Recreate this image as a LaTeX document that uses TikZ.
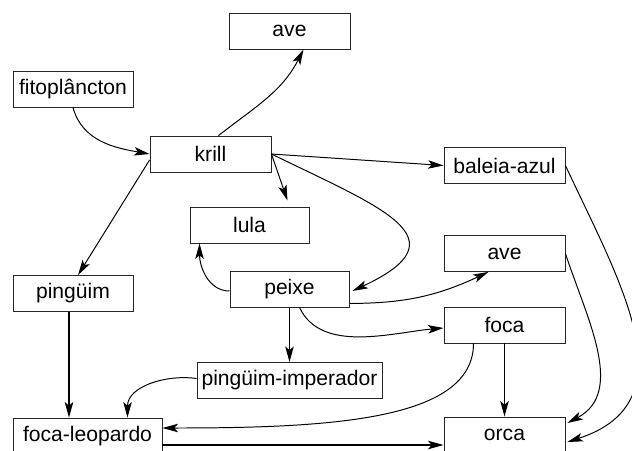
\documentclass[tikz,border=0pt]{standalone}
\usepackage{fontspec}
\setmainfont{Liberation Sans}
\usetikzlibrary{arrows.meta,calc}

\begin{document}
\begin{tikzpicture}[x=0.025cm,y=-0.025cm,
	caixa/.style={draw=black!85, line width=0.6pt, minimum width=3.025cm, minimum height=0.9cm, inner sep=2pt, font=\fontsize{15}{18}\selectfont},
	seta/.style={-{Stealth[length=11pt,width=6pt,inset=2.5pt]}, line width=0.7pt},
	grossa/.style={seta, line width=1.3pt}]
			\clip (0,0) rectangle (632,450);
			% caixas
			\node[caixa] (ave) at (289.5,31) {ave};
			\node[caixa, minimum width=3cm] (fito) at (73,89) {fitoplâncton};
			\node[caixa] (krill) at (210.5,154) {krill};
			\node[caixa] (baleia) at (504.5,165.5) {baleia-azul};
			\node[caixa, minimum width=2.975cm] (lula) at (249.5,225) {lula};
			\node[caixa] (ave2) at (504.5,253.5) {ave};
			\node[caixa, minimum width=3cm] (pinguim) at (73,293.5) {pingüim};
			\node[caixa, minimum width=2.975cm] (peixe) at (289.5,289) {peixe};
			\node[caixa] (foca) at (504.5,325) {foca};
			\node[caixa, minimum width=4.625cm] (imperador) at (289.5,380.5) {pingüim-imperador};
			\node[caixa, minimum width=3.725cm] (leopardo) at (87.5,436) {foca-leopardo};
			\node[caixa] (orca) at (504.5,435) {orca};
			% setas
			\draw[seta] (fito.south) to[out=-75,in=170] (krill.west);
			\draw[seta] ($(krill.north)+(8,0)$) to[out=38,in=-117] ($(ave.south)+(14,0)$);
			\draw[seta] (krill.east) -- (baleia.west);
			\draw[seta] (krill.east) -- ($(lula.north)+(38,-6)$);
			\draw[seta] (krill.east) to[out=-26,in=25,looseness=2] ($(peixe.east)+(3,2)$);
			\draw[seta] ($(krill.west)+(0,6)$) -- ($(pinguim.north)+(5,0)$);
			\draw[seta] ($(peixe.west)+(0,2)$) to[out=180,in=-90] ($(lula.south)+(-50,0)$);
			\draw[seta] ($(peixe.south east)+(0,-4)$) to[out=0,in=205] ($(ave2.south)+(-16,0)$);
			\draw[seta] ($(peixe.south)+(10,0)$) to[out=-65,in=185,looseness=0.9] ($(foca.west)+(0,3)$);
			\draw[grossa] (peixe.south) -- (imperador.north);
			\draw[seta] ($(imperador.west)+(0,-2)$) to[out=172,in=90] ($(leopardo.north)+(40,0)$);
			\draw[grossa] ($(pinguim.south)+(-4,0)$) -- ($(leopardo.north)+(-18.5,0)$);
			\draw[seta] ($(foca.south)+(-31,0)$) .. controls +(0,77) and +(168,0) .. ($(leopardo.east)+(0,-8)$);
			\draw[grossa] (foca.south) -- (orca.north);
			\draw[grossa] ($(leopardo.east)+(0,9)$) -- ($(orca.west)+(0,10)$);
			\draw[seta] (ave2.east) to[out=-72,in=28] ($(orca.east)+(2,-12)$);
			\draw[seta] (baleia.east) to[out=-65,in=18,looseness=1.2] ($(orca.east)+(2,7)$);
		\end{tikzpicture}
\end{document}
